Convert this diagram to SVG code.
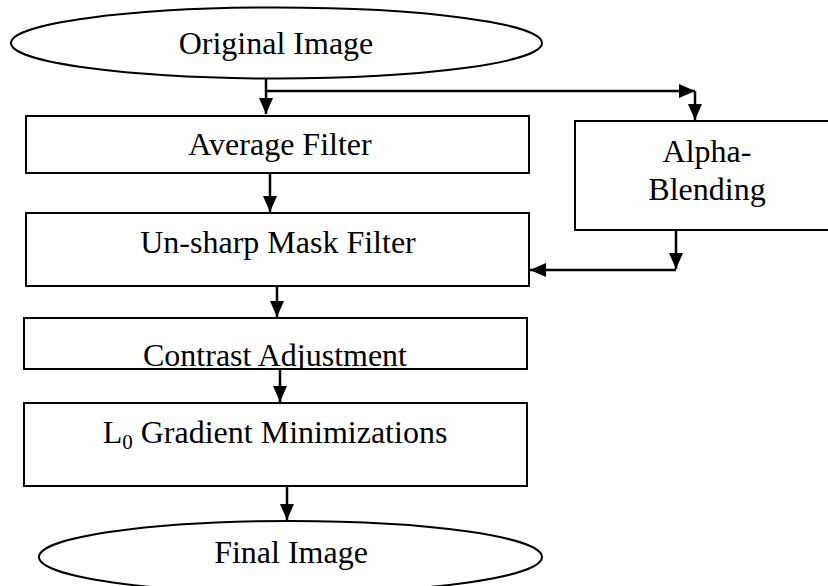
<svg xmlns="http://www.w3.org/2000/svg" width="828" height="586" viewBox="0 0 828 586">
<style>
.box{fill:#fff;stroke:#000;stroke-width:2}
.t{font-family:"Liberation Serif","Times New Roman",serif;font-size:32px;fill:#000;text-anchor:middle}
.ln{fill:none;stroke:#000;stroke-width:2.5}
</style>
<defs>
<marker id="ah" viewBox="0 0 16 14" refX="16" refY="7" markerWidth="16" markerHeight="14" markerUnits="userSpaceOnUse" orient="auto">
<path d="M0,0 L16,7 L0,14 z" fill="#000"/>
</marker>
<clipPath id="cc"><rect x="24" y="318" width="503" height="50"/></clipPath>
</defs>
<rect width="828" height="586" fill="#fff"/>
<g id="connectors">
<path class="ln" d="M266,78 V114" marker-end="url(#ah)"/>
<path class="ln" d="M266,91 H695" marker-end="url(#ah)"/>
<path class="ln" d="M695,91 V120" marker-end="url(#ah)"/>
<path class="ln" d="M270,173 V212" marker-end="url(#ah)"/>
<path class="ln" d="M676,228 V269" marker-end="url(#ah)"/>
<path class="ln" d="M676,270 H530" marker-end="url(#ah)"/>
<path class="ln" d="M277,286 V317" marker-end="url(#ah)"/>
<path class="ln" d="M280,369 V402" marker-end="url(#ah)"/>
<path class="ln" d="M287,487 V520" marker-end="url(#ah)"/>
</g>
<g id="original">
<ellipse class="box" cx="276.5" cy="43" rx="265.5" ry="35.5"/>
<text class="t" x="276" y="54">Original Image</text>
</g>
<g id="average">
<rect class="box" x="26" y="116" width="503" height="57"/>
<text class="t" x="280" y="155">Average Filter</text>
</g>
<g id="alpha">
<rect class="box" x="575" y="121" width="262" height="109"/>
<text class="t" x="707" y="162">Alpha-</text>
<text class="t" x="707" y="200">Blending</text>
</g>
<g id="unsharp">
<rect class="box" x="26" y="213" width="503" height="73"/>
<text class="t" x="278" y="253">Un-sharp Mask Filter</text>
</g>
<g id="contrast">
<rect class="box" x="24" y="318" width="503" height="51"/>
<text class="t" x="275" y="366" clip-path="url(#cc)">Contrast Adjustment</text>
</g>
<g id="l0">
<rect class="box" x="24" y="403" width="503" height="83"/>
<text class="t" x="275" y="443">L<tspan font-size="21" dy="6">0</tspan><tspan dy="-6"> Gradient Minimizations</tspan></text>
</g>
<g id="final">
<ellipse class="box" cx="290.5" cy="557" rx="251.5" ry="36"/>
<text class="t" x="291" y="563">Final Image</text>
</g>
</svg>
